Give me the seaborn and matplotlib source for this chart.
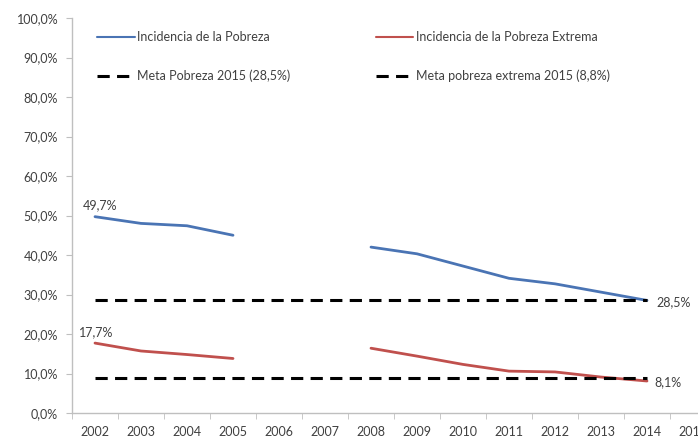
"""Colombia: incidencia de la pobreza y pobreza extrema, 2002-2014."""
import numpy as np
import pandas as pd
import matplotlib
matplotlib.use('Agg')
import matplotlib.pyplot as plt
from matplotlib.lines import Line2D
import seaborn as sns

years = [2002, 2003, 2004, 2005, 2006, 2007, 2008, 2009, 2010, 2011, 2012, 2013, 2014, 2015]
pobreza = [49.7, 48.0, 47.4, 45.0, np.nan, np.nan, 42.0, 40.3, 37.2, 34.1, 32.7, 30.6, 28.5, np.nan]
pobreza_extrema = [17.7, 15.7, 14.8, 13.8, np.nan, np.nan, 16.4, 14.4, 12.3, 10.6, 10.4, 9.1, 8.1, np.nan]
meta_pobreza = 28.5
meta_extrema = 8.8
y_ticks = [0, 10, 20, 30, 40, 50, 60, 70, 80, 90, 100]

BLUE = '#4a74b4'
RED = '#c0504d'
GRAY = '#404040'
DASHES = (4, 2.4)
FS = 9

sns.set_style('white')
plt.rcParams['font.family'] = ['Lato', 'DejaVu Sans']

fig = plt.figure(figsize=(6.98, 4.38), dpi=100)
ax = fig.add_axes([72 / 698, 25 / 438, 644 / 698, 395 / 438])

pos = np.arange(len(years))
df = pd.DataFrame({'pos': pos, 'pobreza': pobreza, 'extrema': pobreza_extrema})
# split into continuous segments so the gap 2006-2007 stays empty
df['seg'] = df['pobreza'].isna().cumsum()
df = df.dropna()

for _, seg in df.groupby('seg'):
    sns.lineplot(data=seg, x='pos', y='pobreza', color=BLUE, lw=2, ax=ax)
    sns.lineplot(data=seg, x='pos', y='extrema', color=RED, lw=2, ax=ax)

# meta lines from first to last observed year
ends = [pos[0], pos[12]]
ax.plot(ends, [meta_pobreza] * 2, color='black', lw=2.2, dashes=DASHES)
ax.plot(ends, [meta_extrema] * 2, color='black', lw=2.2, dashes=DASHES)

# data labels
ax.text(pos[0] - 0.27, pobreza[0] + 1.3, '49,7%', fontsize=FS, color=GRAY, va='bottom')
ax.text(pos[0] - 0.35, pobreza_extrema[0] + 1.3, '17,7%', fontsize=FS, color=GRAY, va='bottom')
ax.text(pos[12] + 0.2, pobreza[12] - 0.5, '28,5%', fontsize=FS, color=GRAY, va='center')
ax.text(pos[12] + 0.15, pobreza_extrema[12] - 0.3, '8,1%', fontsize=FS, color=GRAY, va='center')

ax.set_xlim(-0.5, len(years) - 0.5)
ax.set_ylim(0, 100)
ax.set_yticks(y_ticks)
ax.set_yticklabels([f'{v:.1f}%'.replace('.', ',') for v in y_ticks])
ax.set_xticks(pos)
ax.set_xticklabels([str(y) for y in years])
ax.set_xticks(np.arange(-0.5, len(years), 1), minor=True)
ax.set_xlabel('')
ax.set_ylabel('')

ax.tick_params(axis='x', which='major', length=0, pad=9, labelsize=FS, labelcolor=GRAY)
ax.tick_params(axis='x', which='minor', length=4, color='#bfbfbf', direction='out', bottom=True)
ax.tick_params(axis='y', length=4, color='#bfbfbf', direction='out', left=True, labelsize=FS,
               labelcolor=GRAY, pad=6)

sns.despine(ax=ax)
for s in ['left', 'bottom']:
    ax.spines[s].set_color('#bfbfbf')
    ax.spines[s].set_linewidth(1)

handles = [
    Line2D([], [], color=BLUE, lw=1.5),
    Line2D([], [], color='black', lw=2.2, dashes=DASHES),
    Line2D([], [], color=RED, lw=1.5),
    Line2D([], [], color='black', lw=2.2, dashes=DASHES),
]
labels = ['Incidencia de la Pobreza', 'Meta Pobreza 2015 (28,5%)',
          'Incidencia de la Pobreza Extrema', 'Meta pobreza extrema 2015 (8,8%)']
leg = ax.legend(handles, labels, ncol=2, loc='upper left', bbox_to_anchor=(0.022, 0.995),
                frameon=False, fontsize=FS, handlelength=3.0, handletextpad=0.2,
                labelspacing=2.1, columnspacing=6.8)
for t in leg.get_texts():
    t.set_color(GRAY)

fig.savefig('out.png', dpi=100)
